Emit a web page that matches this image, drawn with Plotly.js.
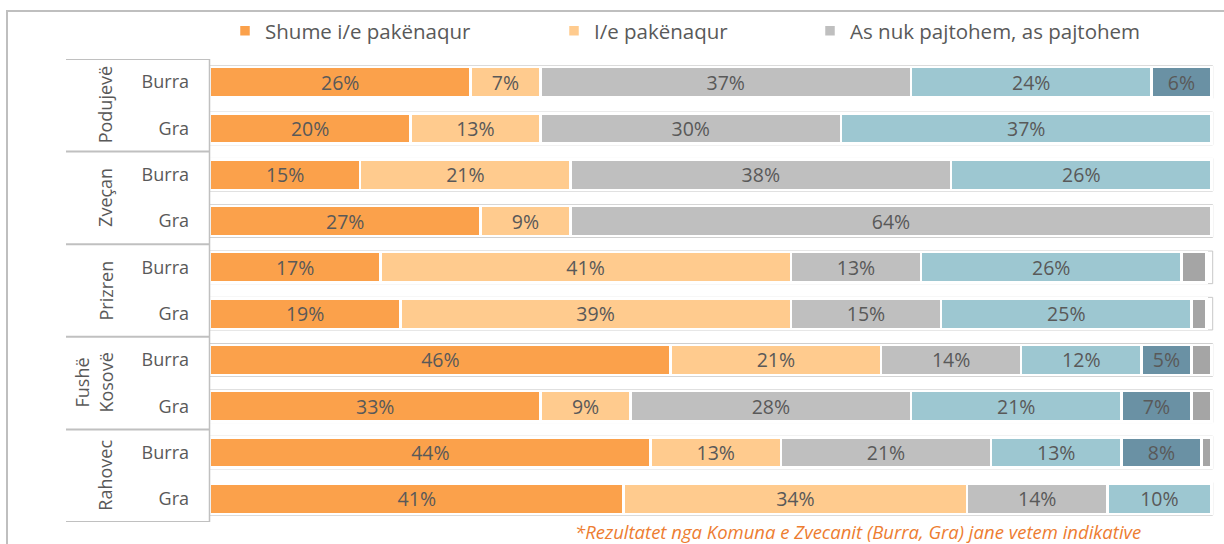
<!DOCTYPE html>
<html>
<head>
<meta charset="utf-8">
<script src="https://cdn.plot.ly/plotly-3.0.1.min.js"></script>
<style>html,body{margin:0;padding:0;background:#fff;}#chart{width:1224px;height:544px;}</style>
</head>
<body>
<div id="chart"></div>
<script>
// ---- data ----
var groups = ['Podujevë', 'Zveçan', 'Prizren', 'Fushë<br>Kosovë', 'Rahovec'];
var genders = ['Burra', 'Gra'];
var seriesNames = ['Shume i/e pakënaqur', 'I/e pakënaqur', 'As nuk pajtohem, as pajtohem', 'I/e kënaqur', 'Shumë i/e kënaqur', 'Nuk e di'];
var s1 = [26, 20, 15, 27, 17, 19, 46, 33, 44, 41.3];
var s2 = [7, 13, 21, 9, 41, 39, 21, 9, 13, 34.3];
var s3 = [37, 30, 38, 64, 13, 15, 14, 28, 21, 14];
var s4 = [24, 37, 26, null, 26, 25, 12, 21, 13, 10.4];
var s5 = [6, null, null, null, null, null, 5, 7, 8, null];
var s6 = [null, null, null, null, 2.5, 1.5, 2, 2, 1, null];
var footnote = '*Rezultatet nga Komuna e Zvecanit (Burra, Gra) jane vetem indikative';

// ---- styling ----
var colors = ['#FBA14B', '#FFCB8E', '#BFBFBF', '#9DC7D1', '#6A91A4', '#A5A5A5'];
var txtColor = '#595959';
var allSeries = [s1, s2, s3, s4, s5, s6];

var rowLabels = [];
var rowPos = [];
groups.forEach(function (g, gi) {
  genders.forEach(function (s, si) {
    rowLabels.push(s);
    rowPos.push(gi * genders.length + si);
  });
});

var legendIds = ['legend', 'legend2', 'legend3'];
var traces = allSeries.map(function (vals, k) {
  return {
    type: 'bar',
    orientation: 'h',
    name: seriesNames[k],
    x: vals,
    y: rowPos,
    width: 0.655,
    marker: {color: colors[k], line: {color: '#FFFFFF', width: 2.5}},
    text: vals.map(function (v) { return (v == null || v < 4) ? '' : Math.round(v) + '%'; }),
    textposition: 'inside',
    insidetextanchor: 'middle',
    constraintext: 'none',
    textfont: {family: 'Open Sans', size: 19.5, color: txtColor},
    hoverinfo: 'name+x',
    showlegend: k < 3,
    legend: k < 3 ? legendIds[k] : 'legend'
  };
});

var L = 210, R = 10, T = 59, B = 22;
var W = 1224, H = 544;
var pw = W - L - R, ph = H - T - B;
function px2x(p) { return (p - L) / pw; }
function py2y(p) { return (H - B - p) / ph; }

var shapes = [];
// frames around each bar row
rowPos.forEach(function (r) {
  shapes.push({type: 'rect', xref: 'x', yref: 'y', x0: -0.15, x1: 100.12, y0: r - 0.352, y1: r + 0.352,
    layer: 'below', fillcolor: '#FFFFFF', line: {color: '#C8C8C8', width: 1}});
});
// category table separators
for (var gi = 0; gi <= groups.length; gi++) {
  var yb = gi * genders.length - 0.5;
  shapes.push({type: 'line', xref: 'paper', yref: 'y', x0: px2x(66), x1: px2x(209.5), y0: yb, y1: yb,
    line: {color: '#C0C0C0', width: 2}});
}
shapes.push({type: 'line', xref: 'paper', yref: 'y', x0: px2x(209.5), x1: px2x(209.5), y0: -0.5, y1: rowPos.length - 0.5,
  line: {color: '#C0C0C0', width: 1.5}});
// outer chart frame
shapes.push({type: 'rect', xref: 'paper', yref: 'paper', x0: px2x(7), x1: px2x(1240), y0: py2y(560), y1: py2y(11),
  line: {color: '#BFBFBF', width: 2}, fillcolor: 'rgba(0,0,0,0)'});

var annotations = groups.map(function (g, gi) {
  return {xref: 'paper', yref: 'y', x: px2x(119), y: gi * genders.length + (genders.length - 1) / 2,
    xanchor: 'right', yanchor: 'middle', text: g, textangle: -90, showarrow: false,
    font: {family: 'Open Sans', size: 18, color: txtColor}};
});
annotations.push({xref: 'paper', yref: 'paper', x: px2x(573), y: py2y(531), xanchor: 'left', yanchor: 'middle',
  text: '<i>' + footnote + '</i>', showarrow: false, font: {family: 'Open Sans', size: 18.5, color: '#ED7D31'}});

var legFont = {family: 'Open Sans', size: 20.5, color: txtColor};
var legY = py2y(31);
var layout = {
  width: W, height: H,
  margin: {l: L, r: R, t: T, b: B, pad: 0},
  paper_bgcolor: '#FFFFFF',
  plot_bgcolor: 'rgba(0,0,0,0)',
  barmode: 'stack',
  bargap: 0.3,
  xaxis: {range: [0, 100.25], showgrid: false, zeroline: false, showticklabels: false, showline: false, fixedrange: true},
  yaxis: {range: [rowPos.length - 0.5, -0.5], tickvals: rowPos, ticktext: rowLabels, showgrid: false, zeroline: false,
    showline: false, ticks: '', ticklabelstandoff: 20, tickfont: {family: 'Open Sans', size: 18, color: txtColor}},
  legend: {x: px2x(225), y: legY, xanchor: 'left', yanchor: 'middle', orientation: 'h', font: legFont, bgcolor: 'rgba(0,0,0,0)'},
  legend2: {x: px2x(554), y: legY, xanchor: 'left', yanchor: 'middle', orientation: 'h', font: legFont, bgcolor: 'rgba(0,0,0,0)'},
  legend3: {x: px2x(810), y: legY, xanchor: 'left', yanchor: 'middle', orientation: 'h', font: legFont, bgcolor: 'rgba(0,0,0,0)'},
  shapes: shapes,
  annotations: annotations,
  showlegend: true
};

Plotly.newPlot('chart', traces, layout, {displayModeBar: false, staticPlot: true});
</script>
</body>
</html>
